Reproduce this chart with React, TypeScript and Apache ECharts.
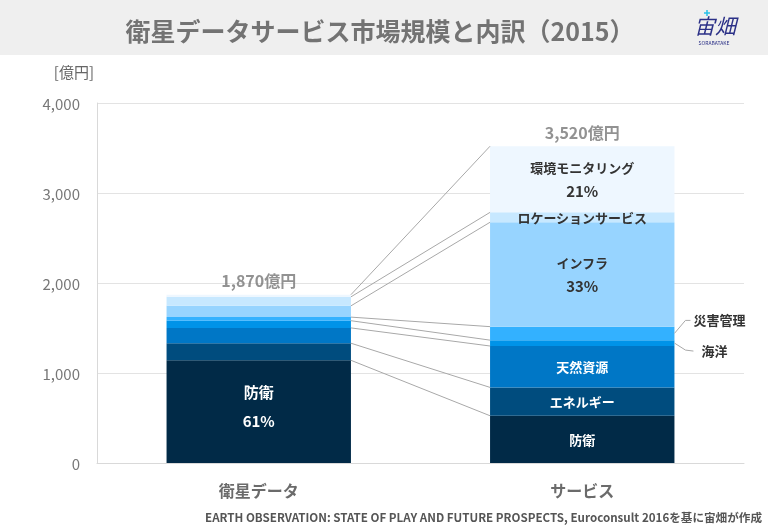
import React, { useEffect, useRef } from 'react';
import * as echarts from 'echarts';

const categories = ['衛星データ', 'サービス'];
const segmentNames = ['防衛', 'エネルギー', '天然資源', '海洋', '災害管理', 'インフラ', 'ロケーションサービス', '環境モニタリング'];
const satelliteValues = [1141, 190, 170, 80, 40, 125, 100, 24];
const serviceValues = [525, 315, 460, 65, 150, 1160, 110, 735];
const totals = [1870, 3520];
const outsideLabels = ['災害管理', '海洋'];
const yMax = 4000;
const yInterval = 1000;

const segmentColors = ['#012a47', '#004c7e', '#0077c6', '#0093e8', '#33b1ff', '#97d4ff', '#c7e8ff', '#eef7ff'];
const FONT = '"Noto Sans CJK JP", "Noto Sans", sans-serif';
const BAR_RATIO = 0.57;
// leader line offsets (style) for the outside labels: [bend dx, bend dy, end dx, end dy, text dx]
const leaderStyle: Record<string, number[]> = {
  '災害管理': [11, -13, 16, -13, 19],
  '海洋': [11, 7, 19, 8, 27],
};

function cumulative(vals: number[]) {
  const out: number[] = [];
  let s = 0;
  for (const v of vals) { s += v; out.push(s); }
  return out;
}

function segLabel(barIdx: number, segIdx: number) {
  const vals = barIdx === 0 ? satelliteValues : serviceValues;
  const v = vals[segIdx];
  const share = v / totals[barIdx];
  const name = segmentNames[segIdx];
  const color = segIdx <= 2 ? '#ffffff' : '#333333';
  const pct = Math.round(share * 100) + '%';
  if (barIdx === 0) {
    if (share < 0.2) return { show: false };
    return {
      show: true, position: 'inside', offset: [0, -6],
      formatter: `{n|${name}}\n{p|${pct}}`,
      rich: {
        n: { fontSize: 15, fontWeight: 'bold', color, lineHeight: 29, fontFamily: FONT },
        p: { fontSize: 15, fontWeight: 'bold', color, lineHeight: 29, fontFamily: FONT },
      },
    };
  }
  if (outsideLabels.includes(name)) return { show: false };
  const showPct = share >= 0.2;
  return {
    show: true, position: 'inside',
    formatter: showPct ? `{n|${name}}\n{p|${pct}}` : `{n|${name}}`,
    rich: {
      n: { fontSize: 13, fontWeight: 'bold', color, lineHeight: 23, fontFamily: FONT },
      p: { fontSize: 15, fontWeight: 'bold', color, lineHeight: 23, fontFamily: FONT },
    },
  };
}

export default function App() {
  const ref = useRef<HTMLDivElement>(null);
  useEffect(() => {
    if (!ref.current) return;
    const chart = echarts.init(ref.current, undefined, { renderer: 'svg' });
    const satCum = cumulative(satelliteValues);
    const serCum = cumulative(serviceValues);

    const barSeries = segmentNames.map((name, i) => ({
      type: 'bar',
      name,
      stack: 'total',
      barWidth: BAR_RATIO * 100 + '%',
      itemStyle: { color: segmentColors[i] },
      data: [
        { value: satelliteValues[i], label: segLabel(0, i) },
        { value: serviceValues[i], label: segLabel(1, i) },
      ],
    }));

    const connectorData = segmentNames.map((_, i) => [0, satCum[i], serCum[i]]);
    const outsideData = segmentNames
      .map((name, i) => ({ name, i }))
      .filter((d) => outsideLabels.includes(d.name))
      .map((d) => ({ name: d.name, value: [1, serCum[d.i] - serviceValues[d.i] / 2] }));

    chart.setOption({
      animation: false,
      grid: { left: 97, right: 24, top: 103, bottom: 62 },
      xAxis: {
        type: 'category',
        data: categories,
        axisTick: { show: false },
        axisLine: { lineStyle: { color: '#d9d9d9' } },
        axisLabel: { margin: 19, fontSize: 16, fontWeight: 'bold', color: '#6b6b6b', fontFamily: FONT },
      },
      yAxis: {
        type: 'value',
        min: 0,
        max: yMax,
        interval: yInterval,
        name: '[億円]',
        nameLocation: 'end',
        nameGap: 24,
        nameTextStyle: { align: 'right', fontSize: 15, color: '#666', fontFamily: FONT, padding: [0, 3, 0, 0] },
        axisLine: { show: true, lineStyle: { color: '#d9d9d9' } },
        axisTick: { show: false },
        splitLine: { lineStyle: { color: '#e3e3e3' } },
        axisLabel: { margin: 17, fontSize: 15, color: '#777', fontFamily: FONT },
      },
      graphic: [
        { type: 'rect', shape: { x: 0, y: 0, width: 768, height: 55 }, style: { fill: '#efefef' }, z: -10 },
        {
          type: 'text', x: 380, y: 30,
          style: { text: '衛星データサービス市場規模と内訳（2015）', fontSize: 25, fontWeight: 'bold', fill: '#737373', fontFamily: FONT, align: 'center', verticalAlign: 'middle' },
        },
        {
          type: 'text', x: 715, y: 25,
          style: { text: '宙畑', fontSize: 21, fontStyle: 'italic', fill: '#2b3087', fontFamily: FONT, align: 'center', verticalAlign: 'middle' },
        },
        { type: 'line', shape: { x1: 704, y1: 13, x2: 710, y2: 13 }, style: { stroke: '#27c0e8', lineWidth: 1.5 } },
        { type: 'line', shape: { x1: 707, y1: 10, x2: 707, y2: 16 }, style: { stroke: '#27c0e8', lineWidth: 1.5 } },
        {
          type: 'text', x: 714, y: 42,
          style: { text: 'SORABATAKE', fontSize: 5, fill: '#2b3087', fontFamily: FONT, align: 'center', verticalAlign: 'middle' },
        },
        {
          type: 'text', x: 762, y: 517,
          style: { text: 'EARTH OBSERVATION: STATE OF PLAY AND FUTURE PROSPECTS, Euroconsult 2016を基に宙畑が作成', fontSize: 11.6, fontWeight: 'bold', fill: '#555', fontFamily: FONT, align: 'right', verticalAlign: 'middle' },
        },
      ],
      series: [
        ...barSeries,
        {
          type: 'custom',
          silent: true,
          encode: { x: 0, y: 1 },
          data: connectorData,
          renderItem: (params: any, api: any) => {
            const l = api.value(1);
            const r = api.value(2);
            const p1 = api.coord([0, l]);
            const p2 = api.coord([1, r]);
            const half = (api.size([1, 0])[0] * BAR_RATIO) / 2;
            return {
              type: 'line',
              shape: { x1: p1[0] + half, y1: p1[1], x2: p2[0] - half, y2: p2[1] },
              style: { stroke: '#a8a8a8', lineWidth: 1, fill: null },
            };
          },
          z: 3,
        },
        {
          type: 'custom',
          silent: true,
          encode: { x: 0, y: 1 },
          data: outsideData,
          renderItem: (params: any, api: any) => {
            const item = outsideData[params.dataIndex];
            const p = api.coord([1, api.value(1)]);
            const half = (api.size([1, 0])[0] * BAR_RATIO) / 2;
            const sx = p[0] + half;
            const sy = p[1];
            const o = leaderStyle[item.name];
            return {
              type: 'group',
              children: [
                {
                  type: 'polyline',
                  shape: { points: [[sx, sy], [sx + o[0], sy + o[1]], [sx + o[2], sy + o[3]]] },
                  style: { stroke: '#a8a8a8', lineWidth: 1, fill: null },
                },
                {
                  type: 'text',
                  x: sx + o[4], y: sy + o[3] - 1,
                  style: { text: item.name, fontSize: 13, fontWeight: 'bold', fill: '#333', fontFamily: FONT, align: 'left', verticalAlign: 'middle' },
                },
              ],
            };
          },
          z: 3,
        },
        {
          type: 'scatter',
          silent: true,
          symbolSize: 1,
          itemStyle: { color: 'rgba(0,0,0,0)' },
          data: totals.map((t, i) => [i, t]),
          label: {
            show: true, position: 'top', distance: 6,
            formatter: (p: any) => p.value[1].toLocaleString('en-US') + '億円',
            fontSize: 16, fontWeight: 'bold', color: '#777', fontFamily: FONT,
          },
          z: 4,
        },
      ],
    });
    return () => chart.dispose();
  }, []);
  return <div ref={ref} style={{ position: 'fixed', left: 0, top: 0, width: 768, height: 525 }} />;
}
